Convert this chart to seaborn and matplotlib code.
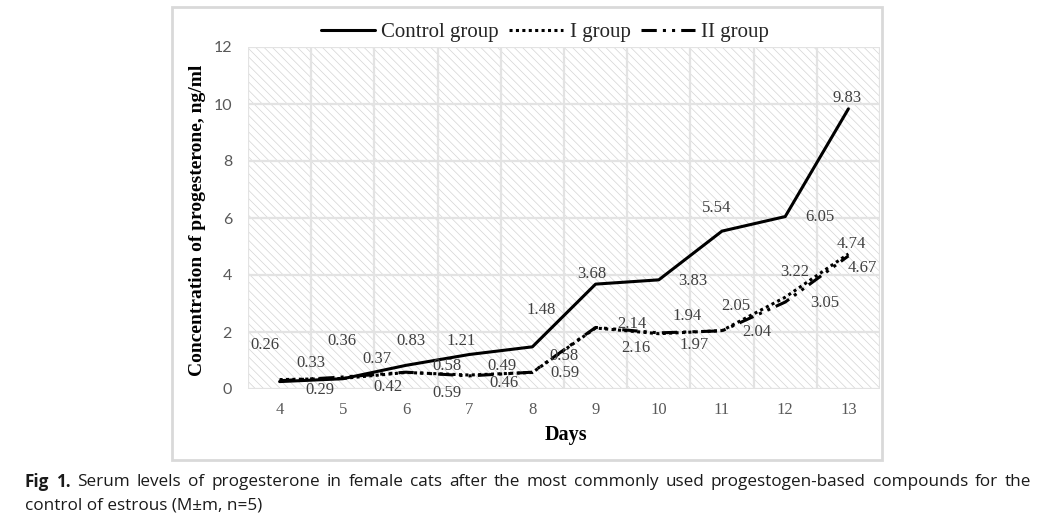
import numpy as np
import pandas as pd
import matplotlib
matplotlib.use("Agg")
import matplotlib.pyplot as plt
from matplotlib.patches import Rectangle
import seaborn as sns

# ---------------- data ----------------
days = [4, 5, 6, 7, 8, 9, 10, 11, 12, 13]
control = [0.26, 0.36, 0.83, 1.21, 1.48, 3.68, 3.83, 5.54, 6.05, 9.83]
group_i = [0.33, 0.37, 0.58, 0.49, 0.58, 2.14, 1.94, 2.05, 3.22, 4.74]
group_ii = [0.29, 0.42, 0.59, 0.46, 0.59, 2.16, 1.97, 2.04, 3.05, 4.67]
series_names = ["Control group", "I group", "II group"]
y_ticks = [0, 2, 4, 6, 8, 10, 12]

# label offsets (pixels) for the data labels
off_control = [(-15, 37), (-1, 38), (5, 24), (-8, 14), (9, 37), (-4, 10),
               (34, -1), (-5, 23), (35, 0), (-1, 11)]
off_i = [(31, 17), (34, 19), (41, 6), (33, 9), (32, 16), (36, 4), (28, 18),
         (14, 25), (9, 25), (3, 10)]
off_ii = [(40, -9), (45, -10), (41, -21), (35, -7), (33, -1), (40, -21),
          (35, -12), (35, -1), (40, -1), (14, -12)]

df = pd.DataFrame({
    "day": days * 3,
    "value": control + group_i + group_ii,
    "group": [series_names[0]] * len(days) + [series_names[1]] * len(days)
             + [series_names[2]] * len(days),
})

sns.set_theme(style="white")
plt.rcParams["font.family"] = ["Liberation Serif", "DejaVu Serif"]
plt.rcParams["hatch.linewidth"] = 0.5

W, H = 1043, 530
fig = plt.figure(figsize=(W / 100, H / 100), dpi=100)
fig.patch.set_facecolor("white")

# outer chart frame
fig.add_artist(Rectangle((172 / W, 1 - 460 / H), (882 - 172) / W, (460 - 7) / H,
                         transform=fig.transFigure, fill=False,
                         edgecolor="#d9d9d9", lw=2))

ax = fig.add_axes([248 / W, 1 - 389 / H, (880 - 248) / W, (389 - 47) / H])
ax.patch.set_facecolor("white")
ax.add_patch(Rectangle((0, 0), 1, 1, transform=ax.transAxes, facecolor="white",
                       edgecolor="#d4d4d4", lw=0, hatch="\\\\\\\\", zorder=0.1))

sns.lineplot(data=df, x="day", y="value", style="group", color="black",
             dashes={"Control group": "", "I group": (1, 1.1),
                     "II group": (5, 2, 1, 2, 1, 2)},
             linewidth=2.2, ax=ax, legend=False)

ax.set_xlim(3.5, 13.5)
ax.set_ylim(0, 12)
ax.set_xticks(days)
ax.set_xticks(np.arange(3.5, 13.6, 0.5), minor=True)
ax.set_yticks(y_ticks)
ax.set_yticklabels([str(t) for t in y_ticks], fontfamily="Lato", fontsize=11.5,
                   color="#595959")
ax.set_xticklabels([str(d) for d in days], fontsize=12, color="#595959")
ax.tick_params(axis="y", length=0, pad=11.5)
ax.tick_params(axis="x", which="both", length=0, pad=9)
ax.set_axisbelow(True)
ax.grid(False)
ax.xaxis.grid(True, which="minor", color="#e3e3e3", lw=1.6)
ax.yaxis.grid(True, which="major", color="#e3e3e3", lw=1.6)
for s in ax.spines.values():
    s.set_visible(False)
ax.set_xlabel("")
ax.set_ylabel("")

# data labels
for vals, offs in ((control, off_control), (group_i, off_i), (group_ii, off_ii)):
    for d, v, (dx, dy) in zip(days, vals, offs):
        ax.annotate(f"{v:.2f}", (d, v), xytext=(dx, dy), textcoords="offset pixels",
                    ha="center", va="center", fontsize=12, color="#404040")

# legend
handles = ax.get_lines()[:3]
fig.legend(handles, series_names, ncol=3, loc="center",
           bbox_to_anchor=(545 / W, 1 - 32 / H), frameon=False, fontsize=15,
           handlelength=2.6, handletextpad=0.3, columnspacing=0.5,
           borderpad=0, borderaxespad=0)

fig.text(198 / W, 1 - 220 / H, "Concentration of progesterone, ng/ml",
         rotation=90, ha="center", va="center", fontsize=14, fontweight="bold",
         color="black")
fig.text(566 / W, 1 - 435 / H, "Days", ha="center", va="center", fontsize=14.5,
         fontweight="bold", color="black")

# caption (justified first line)
fig.canvas.draw()
renderer = fig.canvas.get_renderer()
cap_font = dict(fontfamily="Open Sans", fontsize=12.3, color="#1a1a1a")
line1 = "Serum levels of progesterone in female cats after the most commonly used progestogen-based compounds for the"
words = [("Fig", "bold"), ("1.", "bold")] + [(w, "normal") for w in line1.split()]
x0, x1 = 25, 1031
y1 = 1 - 482 / H
objs = []
total = 0
for w, wt in words:
    t = fig.text(0, y1, w, ha="left", va="center", fontweight=wt, **cap_font)
    wid = t.get_window_extent(renderer).width
    objs.append((t, wid))
    total += wid
gap = (x1 - x0 - total) / (len(words) - 1)
x = x0
for t, wid in objs:
    t.set_x(x / W)
    x += wid + gap
fig.text(x0 / W, 1 - 506 / H, "control of estrous (M\u00b1m, n=5)", ha="left",
         va="center", **cap_font)

fig.savefig("out.png", dpi=100)
